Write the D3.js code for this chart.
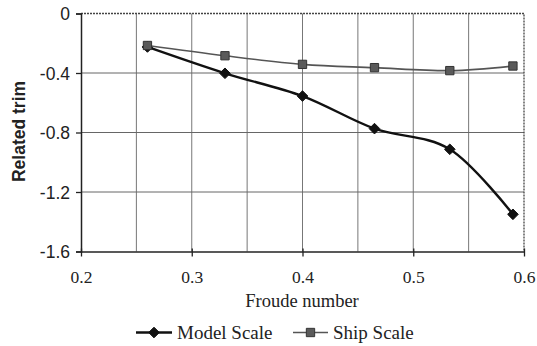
<!DOCTYPE html>
<html>
<head>
<meta charset="utf-8">
<script src="https://cdn.jsdelivr.net/npm/d3@7"></script>
<style>
html,body{margin:0;padding:0;background:#fff;}
svg{display:block;}
</style>
</head>
<body>
<svg id="chart" width="537" height="346"></svg>
<script>
// ---- data ----
const froude = [0.26, 0.33, 0.40, 0.465, 0.533, 0.59];
const modelScale = [-0.225, -0.402, -0.555, -0.774, -0.913, -1.35];
const shipScale = [-0.215, -0.284, -0.342, -0.364, -0.384, -0.353];
const xTicks = [0.2, 0.3, 0.4, 0.5, 0.6];
const xGrid = [0.25, 0.3, 0.35, 0.4, 0.45, 0.5, 0.55];
const yTicks = [0, -0.4, -0.8, -1.2, -1.6];
const yGrid = [-0.4, -0.8, -1.2];
const seriesNames = ["Model Scale", "Ship Scale"];
const xTitle = "Froude number";
const yTitle = "Related trim";

const svg = d3.select("#chart");
const L = 81, R = 524, T = 13.5, B = 251.5;
const x = d3.scaleLinear().domain([0.2, 0.6]).range([L, R]);
const y = d3.scaleLinear().domain([-1.6, 0]).range([B, T]);

const sans = "'Liberation Sans', Arial, sans-serif";
const serif = "'Liberation Serif', 'Times New Roman', serif";

// gridlines
svg.append("g").selectAll("line").data(xGrid).join("line")
  .attr("x1", d => x(d)).attr("x2", d => x(d)).attr("y1", T).attr("y2", B)
  .attr("stroke", "#777").attr("stroke-width", 1);
svg.append("g").selectAll("line").data(yGrid).join("line")
  .attr("x1", L).attr("x2", R).attr("y1", d => y(d)).attr("y2", d => y(d))
  .attr("stroke", "#666").attr("stroke-width", 1);

// top & right border (dotted look)
svg.append("path")
  .attr("d", `M${L},${T}H${R}V${B}`)
  .attr("fill", "none").attr("stroke", "#444").attr("stroke-width", 1.3)
  .attr("stroke-dasharray", "2,1");

// y axis
const yAxis = d3.axisLeft(y).tickValues(yTicks).tickSize(5).tickPadding(6)
  .tickFormat(d => d === 0 ? "0" : d3.format(".1f")(d).replace("−", "-"));
const gy = svg.append("g").attr("transform", `translate(${L},0)`).call(yAxis);
gy.select(".domain").attr("stroke", "#222").attr("stroke-width", 1.5);
gy.selectAll(".tick line").attr("stroke", "#222").attr("stroke-width", 1.3);
gy.selectAll(".tick text").attr("font-family", sans).attr("font-size", "17.5px")
  .attr("fill", "#222").attr("dy", "0.36em");

// x axis
const xAxis = d3.axisBottom(x).tickValues(xTicks).tickSizeInner(5).tickSizeOuter(0).tickPadding(18)
  .tickFormat(d3.format(".1f"));
const gx = svg.append("g").attr("transform", `translate(0,${B})`).call(xAxis);
gx.select(".domain").attr("stroke", "#222").attr("stroke-width", 1.5);
gx.selectAll(".tick line").attr("stroke", "#222").attr("stroke-width", 1.3).attr("y1", -3);
gx.selectAll(".tick text").attr("font-family", serif).attr("font-size", "17.5px")
  .attr("fill", "#222").attr("dy", "0.5em");

// axis titles
svg.append("text").attr("x", 302).attr("y", 306.5).attr("text-anchor", "middle")
  .attr("font-family", serif).attr("font-size", "18.5px").attr("fill", "#222").text(xTitle);
svg.append("text").attr("transform", "translate(25,131.5) rotate(-90)")
  .attr("text-anchor", "middle").attr("font-family", sans).attr("font-weight", "bold")
  .attr("font-size", "17.5px").attr("fill", "#222").text(yTitle);

// lines
const line = d3.line().x(d => x(d[0])).y(d => y(d[1])).curve(d3.curveCardinal.tension(0));
const modelPts = froude.map((f, i) => [f, modelScale[i]]);
const shipPts = froude.map((f, i) => [f, shipScale[i]]);

const diamond = d3.symbol().type(d3.symbolDiamond2).size(72);
const square = d3.symbol().type(d3.symbolSquare2).size(88);

svg.append("path").attr("d", line(modelPts)).attr("fill", "none")
  .attr("stroke", "#111").attr("stroke-width", 2.4);
svg.append("g").selectAll("path").data(modelPts).join("path")
  .attr("transform", d => `translate(${x(d[0])},${y(d[1])})`)
  .attr("d", diamond).attr("fill", "#111").attr("stroke", "#111").attr("stroke-width", 1);

svg.append("path").attr("d", line(shipPts)).attr("fill", "none")
  .attr("stroke", "#555").attr("stroke-width", 1.6);
svg.append("g").selectAll("path").data(shipPts).join("path")
  .attr("transform", d => `translate(${x(d[0])},${y(d[1])})`)
  .attr("d", square).attr("fill", "#5a5a5a").attr("stroke", "#333").attr("stroke-width", 1);

// legend
const ly = 332.5;
const leg = [
  {name: seriesNames[0], x0: 136, x1: 172, sym: diamond, stroke: "#111", sw: 2.4, fill: "#111", mstroke: "#111", tx: 177},
  {name: seriesNames[1], x0: 293, x1: 328, sym: square, stroke: "#555", sw: 1.6, fill: "#5a5a5a", mstroke: "#333", tx: 333}
];
leg.forEach(l => {
  svg.append("line").attr("x1", l.x0).attr("x2", l.x1).attr("y1", ly).attr("y2", ly)
    .attr("stroke", l.stroke).attr("stroke-width", l.sw);
  svg.append("path").attr("transform", `translate(${(l.x0 + l.x1) / 2},${ly})`)
    .attr("d", l.sym).attr("fill", l.fill).attr("stroke", l.mstroke).attr("stroke-width", 1);
  svg.append("text").attr("x", l.tx).attr("y", 339).attr("font-family", serif)
    .attr("font-size", "19px").attr("fill", "#222").text(l.name);
});
</script>
</body>
</html>
